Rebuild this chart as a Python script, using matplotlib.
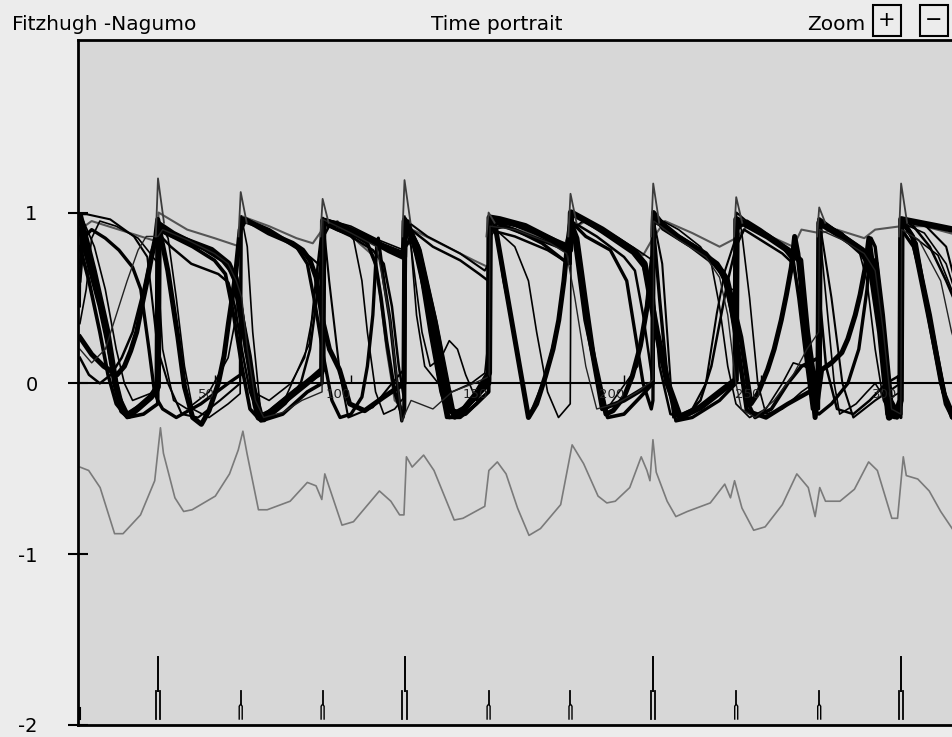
import matplotlib.pyplot as plt
from matplotlib.patches import Rectangle

# stimulus times, marker tops and spike peaks
stim_t = [0.7, 29.3, 59.6, 89.6, 119.6, 150.4, 180.4, 210.7, 241.1, 271.5, 301.5]
stim_top = [-1.9, -1.6, -1.8, -1.8, -1.6, -1.8, -1.8, -1.6, -1.8, -1.8, -1.6]
stim_split = [-1.9, -1.8, -1.89, -1.89, -1.8, -1.89, -1.89, -1.8, -1.89, -1.89, -1.8]
peak_v = [0.9, 1.20, 1.12, 1.08, 1.19, 1.00, 1.11, 1.17, 1.09, 1.03, 1.17]

time_ticks = [50, 100, 150, 200, 250, 300]
y_ticks = [1, 0, -1, -2]

# grey recovery trace
w_t = [0.7, 3.9, 8.1, 13.4, 16.5, 22.9, 28.1, 30.2, 31.3, 35.5, 38.7, 41.8, 50.3, 55.5, 58.7,
       60.4, 61.9, 66.1, 69.3, 77.7, 84.0, 87.2, 89.3, 90.4, 92.5, 96.7, 100.9, 110.4, 114.6,
       117.8, 119.4, 120.3, 122.4, 126.6, 130.4, 137.8, 141.0, 149.0, 150.5, 153.6, 156.8,
       161.0, 165.2, 169.4, 176.8, 181.0, 185.2, 190.5, 193.7, 196.8, 202.1, 206.3, 208.4,
       209.5, 210.6, 211.8, 215.8, 219.0, 223.2, 231.6, 236.9, 239.0, 240.5, 243.2, 247.5,
       251.7, 258.0, 263.3, 267.5, 270.0, 271.7, 273.8, 279.1, 284.4, 289.6, 292.8, 298.1,
       300.2, 302.3, 303.4, 307.6, 311.8, 316.0, 320.2]
w_v = [-0.49, -0.51, -0.61, -0.88, -0.88, -0.77, -0.57, -0.26, -0.41, -0.67, -0.75, -0.74,
       -0.66, -0.53, -0.39, -0.28, -0.41, -0.74, -0.74, -0.69, -0.58, -0.60, -0.68, -0.53,
       -0.63, -0.83, -0.81, -0.63, -0.69, -0.77, -0.77, -0.43, -0.49, -0.42, -0.51, -0.80,
       -0.79, -0.72, -0.51, -0.46, -0.53, -0.73, -0.89, -0.85, -0.71, -0.36, -0.47, -0.66,
       -0.70, -0.69, -0.61, -0.43, -0.51, -0.57, -0.33, -0.52, -0.69, -0.78, -0.75, -0.70,
       -0.59, -0.67, -0.57, -0.73, -0.86, -0.84, -0.71, -0.53, -0.61, -0.78, -0.61, -0.69,
       -0.69, -0.62, -0.46, -0.51, -0.79, -0.79, -0.43, -0.54, -0.56, -0.63, -0.75, -0.85]

# membrane traces (time, v)
a_t = [0.7, 5.7, 10.6, 13.7, 16.2, 18.5, 21.7, 26.7, 29.2, 29.5, 30.4, 39, 48.9, 55.1, 57.6, 60,
       62.5, 65, 66.2, 68, 72, 79.7, 85.9, 89.5, 89.8, 95, 105, 114, 119.4, 119.7, 124.2, 130.4,
       136.6, 140, 146, 150.5, 150.8, 154.5, 163.8, 173.6, 180.2, 180.6, 192, 203.3, 207.5,
       212, 216, 220.5, 228, 236, 240.9, 241.2, 252.6, 260, 264.5, 267, 270, 271.3, 271.6,
       279.8, 287.2, 292.1, 294.6, 297.1, 300, 301.3, 301.6, 308, 314.4, 320.5, 324]
a_v = [0.98, 0.66, 0.31, 0.0, -0.16, -0.19, -0.15, -0.08, -0.02, 0.92, 0.9, 0.84, 0.78, 0.7,
       0.61, 0.37, 0.16, -0.12, -0.2, -0.21, -0.15, -0.05, 0.03, 0.08, 0.95, 0.93, 0.86, 0.78,
       0.74, 0.95, 0.80, 0.37, -0.16, -0.18, -0.06, 0.06, 0.97, 0.96, 0.92, 0.84, 0.78, 1.0,
       0.9, 0.78, 0.7, 0.3, 0.0, -0.2, -0.14, -0.04, 0.02, 0.96, 0.86, 0.78, 0.72, 0.3, -0.05,
       0.0, 0.94, 0.86, 0.78, 0.70, 0.27, -0.2, -0.16, -0.1, 0.96, 0.94, 0.92, 0.9, 0.88]

b_t = [0.7, 3, 8, 12, 15, 18, 24, 29.1, 29.4, 35, 45, 53, 58, 61, 64, 67.4, 79.7, 86, 89.4,
       89.7, 100, 110, 119.4, 119.7, 123, 129, 135, 138, 146, 150.5, 150.8, 160, 170, 180.2,
       180.5, 183, 187, 192, 200, 210.4, 210.7, 220, 230, 237, 241, 245, 252, 260, 271.2,
       271.5, 280, 287, 290, 293.5, 296.5, 300, 301.4, 301.7, 306, 312, 317, 321, 324]
b_v = [0.9, 0.75, 0.45, 0.15, -0.08, -0.18, -0.12, -0.04, 0.94, 0.88, 0.8, 0.72, 0.62, 0.3, 0.0,
       -0.2, -0.04, 0.03, 0.06, 0.96, 0.9, 0.82, 0.76, 0.96, 0.82, 0.4, -0.1, -0.2, -0.08, 0.02,
       0.96, 0.93, 0.87, 0.8, 0.96, 0.8, 0.3, -0.15, -0.1, 0.0, 0.98, 0.86, 0.76, 0.62, 0.3,
       -0.16, -0.2, -0.12, -0.02, 0.96, 0.86, 0.76, 0.68, 0.3, -0.18, -0.2, -0.12, 0.96, 0.85,
       0.4, -0.05, -0.2, -0.2]

c_t = [0.7, 5, 9.4, 14.3, 17, 19.3, 21.5, 23.6, 25.3, 26.7, 28.5, 29.2, 30.5, 32.9, 36.6, 39,
       42, 45.2, 48, 51.4, 53.5, 55.1, 57.6, 59.4, 61.3, 69.9, 78.6, 82.3, 85, 87.2, 89.6, 92.1,
       95.8, 99.5, 105, 112, 119.4, 119.7, 125, 131, 137.5, 142, 150.5, 150.8, 152.6, 158.8,
       165, 168, 171.2, 174, 176.1, 178, 179.2, 180.5, 182, 186, 193.4, 196, 200, 203, 206,
       208.5, 210.5, 210.8, 215.6, 225.5, 234.1, 237.8, 242.8, 246.5, 249, 252.6, 255, 257.6,
       259.5, 261.3, 262.5, 263.7, 270, 272.4, 276, 279.8, 282, 284.7, 286.5, 288.4, 289.7,
       291, 294.6, 297.1, 301.3, 301.6, 305.7, 311.9, 318, 320.5, 324]
c_v = [0.27, 0.17, 0.10, 0.05, 0.1, 0.19, 0.3, 0.47, 0.6, 0.72, 0.86, 0.96, 0.85, 0.66, 0.27,
       -0.02, -0.2, -0.24, -0.16, 0.0, 0.16, 0.35, 0.62, 0.9, 0.96, 0.88, 0.82, 0.78, 0.72,
       0.62, 0.37, 0.2, 0.08, -0.12, -0.16, -0.08, 0.0, 0.96, 0.78, 0.35, -0.18, -0.14, 0.0,
       0.96, 0.94, 0.37, -0.2, -0.12, 0.04, 0.2, 0.37, 0.6, 0.8, 0.95, 0.85, 0.37, -0.18,
       -0.16, -0.08, 0.04, 0.22, 0.45, 0.75, 1.0, 0.90, 0.80, 0.70, 0.61, 0.27, -0.12, -0.06,
       0.08, 0.2, 0.37, 0.52, 0.68, 0.86, 0.76, -0.2, 0.08, 0.12, 0.18, 0.26, 0.4, 0.52, 0.68,
       0.85, 0.7, 0.27, -0.2, -0.12, 0.96, 0.86, 0.37, -0.12, -0.2, -0.18]

d_t = [0.7, 1.0, 3.2, 11.8, 20.5, 25.4, 27.3, 29.2, 33, 38, 44, 52, 59.4, 59.7, 65, 75, 85,
       89.4, 89.7, 92, 96, 99, 108, 114, 119.3, 119.6, 128, 140, 149, 150.4, 150.7, 152.6,
       155.8, 158.8, 165, 171.2, 176.1, 179.2, 180.5, 192, 203, 207, 209, 210.6, 210.8, 214,
       218, 225, 230, 234, 237, 240.9, 241.2, 250, 260, 263.7, 266, 270, 271.4, 271.6, 276,
       280, 284, 292, 301.3, 301.6, 310, 318, 322, 324]
d_v = [0.45, 0.99, 0.99, 0.96, 0.86, 0.74, 0.47, 0.2, 0.0, -0.18, -0.2, -0.1, 0.0, 0.95, 0.92,
       0.84, 0.74, 0.68, 0.97, 0.6, 0.05, -0.2, -0.14, -0.02, 0.08, 0.96, 0.86, 0.76, 0.66, 0.7,
       0.96, 0.94, 0.6, 0.37, -0.2, 0.04, 0.37, 0.8, 1.0, 0.88, 0.76, 0.68, 0.55, 0.6, 0.96, 0.7,
       -0.2, -0.15, 0.0, 0.41, 0.66, 0.85, 1.0, 0.88, 0.78, 0.74, 0.4, -0.2, -0.1, 0.95, 0.5,
       0.0, -0.2, -0.1, 0.0, 0.97, 0.93, 0.8, 0.55, 0.35]

e_t = [0.7, 2, 6, 10, 14, 17, 20, 28, 29.2, 29.5, 31, 35, 40, 48, 55, 58, 59.5, 59.8, 62, 64,
       67, 75, 84.7, 87, 89.5, 91, 100, 110, 119.4, 119.7, 122, 124, 127, 132, 137, 144, 149,
       150.6, 150.8, 160, 170, 179.5, 180.4, 184, 188, 193, 196, 205, 208, 210.5, 210.8, 214,
       224, 234, 238, 241, 241.3, 243, 246, 249, 252, 258, 265, 271.3, 271.6, 274, 277, 279,
       285, 289, 292, 296, 301.3, 301.6, 306, 315, 320, 324]
e_v = [0.7, 0.95, 0.8, 0.55, 0.2, 0.0, -0.1, -0.05, 0.0, 0.6, 0.2, -0.1, -0.15, -0.05, 0.15,
       0.4, 0.6, 0.98, 0.8, 0.3, -0.18, -0.12, 0.23, 0.6, 0.95, 0.96, 0.92, 0.84, 0.78, 0.98,
       0.8, 0.4, 0.1, 0.0, -0.05, 0.0, 0.06, 0.3, 0.95, 0.92, 0.86, 0.78, 0.95, 0.7, 0.2, -0.17,
       -0.1, 0.1, 0.45, 0.75, 0.98, 0.9, 0.8, 0.68, 0.55, 0.55, 0.96, 0.9, 0.5, 0.0, -0.18,
       -0.15, -0.05, 0.02, 0.9, 0.5, 0.0, -0.18, -0.12, -0.05, 0.0, -0.1, -0.05, 0.94, 0.86,
       0.75, 0.55, 0.4]

f_t = [0.7, 5, 10, 13, 18, 22, 25, 29.3, 31, 40, 50, 55, 58, 60, 62, 65, 68, 75, 82, 89.4, 89.7,
       100, 109.4, 114.3, 118.6, 122, 130, 137, 145, 150.6, 150.9, 160, 173, 179, 182, 186,
       190, 197, 205, 210.6, 210.9, 220, 230, 235, 238, 241, 243, 248, 255, 262, 267, 271.3,
       271.6, 280, 288, 292, 295, 298, 301.4, 301.7, 308, 316, 320, 324]
f_v = [0.2, 0.12, 0.2, 0.35, 0.6, 0.78, 0.86, 0.86, 0.9, 0.84, 0.76, 0.7, 0.6, 0.5, 0.2, -0.1,
       -0.2, -0.17, -0.1, -0.05, 0.96, 0.88, 0.8, 0.37, -0.22, -0.1, -0.15, -0.05, 0.0, 0.04,
       0.92, 0.9, 0.82, 0.76, 0.5, 0.1, -0.15, -0.12, -0.05, 0.02, 0.95, 0.84, 0.74, 0.62, 0.4,
       0.0, -0.15, -0.2, -0.1, 0.05, 0.2, 0.3, 0.9, 0.84, 0.76, 0.66, 0.3, -0.15, -0.18, 0.9,
       0.84, 0.6, 0.3, 0.1]

g_t = [0.7, 2, 5, 10, 15, 20, 23, 26, 28, 29.2, 31, 36, 45, 55, 59.5, 59.8, 70, 80, 84, 87, 90,
       93, 96, 100, 104, 106, 108, 109.4, 110, 112, 114.3, 116.5, 118.6, 119.4, 119.7, 121,
       125, 128, 132, 135, 140, 146, 150.4, 150.7, 160, 170, 178, 180.2, 180.5, 186, 195, 201,
       204, 207, 210, 210.6, 210.9, 213, 216, 219, 225, 235, 241, 241.3, 245, 250, 257, 262,
       264, 267, 269, 271.4, 276, 282, 286, 289, 290.5, 292, 295, 298, 301.4, 301.7, 306, 310,
       314, 318, 322, 324]
g_v = [0.6, 0.85, 0.9, 0.85, 0.78, 0.68, 0.55, 0.2, -0.05, -0.1, -0.15, -0.2, -0.12, 0.0,
       0.05, 0.97, 0.9, 0.8, 0.7, 0.45, 0.15, -0.1, -0.2, -0.18, -0.08, 0.1, 0.4, 0.8, 0.85,
       0.6, 0.37, 0.05, -0.22, -0.15, 0.9, 0.95, 0.75, 0.45, 0.05, -0.2, -0.2, -0.12, -0.05,
       0.95, 0.9, 0.82, 0.72, 0.7, 0.95, 0.86, 0.78, 0.6, 0.3, 0.0, -0.15, -0.1, 0.9, 0.5, 0.0,
       -0.22, -0.2, -0.1, 0.0, 0.9, 0.95, 0.9, 0.82, 0.72, 0.5, 0.1, -0.15, -0.18, -0.12, 0.0,
       0.2, 0.55, 0.85, 0.8, 0.4, -0.1, -0.2, 0.9, 0.8, 0.55, 0.2, -0.1, -0.22, -0.2]

h_t = [0.7, 5, 15, 25, 29.2, 29.5, 40, 50, 59.4, 59.7, 70, 80, 86, 89.5, 95, 103, 108, 110,
       113, 116, 119.4, 119.7, 125, 135, 145, 150.3, 150.6, 165, 178, 180.4, 186, 198, 207,
       210.6, 215, 225, 235, 241, 245, 255, 262, 265, 271.5, 278, 288, 292, 301.5, 310, 324]
h_v = [0.9, 0.95, 0.9, 0.85, 0.83, 1.0, 0.9, 0.85, 0.8, 0.98, 0.92, 0.85, 0.82, 0.9, 0.95,
       0.82, 0.75, 0.6, 0.2, -0.1, -0.15, 0.92, 0.88, 0.8, 0.72, 0.68, 0.95, 0.88, 0.8, 0.9,
       0.95, 0.85, 0.75, 0.85, 0.95, 0.88, 0.8, 0.85, 0.92, 0.85, 0.8, 0.9, 0.88, 0.9, 0.85,
       0.9, 0.92, 0.92, 0.86]

i_t = [0.7, 3, 5, 8, 14, 22, 27, 29.3, 29.6, 33, 36, 39, 42, 48, 55, 59.4, 59.7, 61, 64, 70,
       78, 83, 86, 88, 89.6, 91, 96, 101, 104, 106, 109, 112, 116, 119.5, 119.8, 122, 124, 126,
       129, 133, 136, 139, 142, 146, 150.3, 150.6, 153, 160, 165, 168, 172, 176, 180.3, 180.6,
       185, 195, 205, 210.5, 210.8, 220, 228, 232, 235, 238, 241, 246, 252, 258, 262, 266,
       271.4, 271.7, 280, 286, 289, 292, 295, 298, 301.4, 301.7, 310, 318, 322, 324]
i_v = [0.35, 0.55, 0.85, 0.95, 0.92, 0.85, 0.75, 0.7, 0.95, 0.85, 0.5, 0.1, -0.15, -0.2,
       -0.12, -0.06, 0.5, 0.2, -0.05, -0.1, 0.0, 0.15, 0.4, 0.7, 0.9, 0.96, 0.93, 0.84, 0.6,
       0.3, -0.05, -0.18, -0.15, -0.08, 0.9, 0.8, 0.55, 0.3, 0.1, 0.15, 0.25, 0.2, 0.05, -0.1,
       -0.05, 0.85, 0.9, 0.8, 0.6, 0.3, -0.05, -0.2, -0.12, 0.9, 0.95, 0.88, 0.78, 0.72, 0.98,
       0.9, 0.8, 0.7, 0.45, 0.1, -0.12, -0.2, -0.15, 0.0, 0.12, 0.1, 0.05, 0.95, 0.88, 0.78,
       0.6, 0.2, -0.1, -0.2, -0.15, 0.94, 0.88, 0.7, 0.5, 0.4]

j_t = [0.7, 4, 8, 12, 16, 20, 24, 27, 29.3, 31, 34, 41.5, 51.4, 55.1, 57.5, 60, 63, 66, 70, 76,
       81.6, 85, 87.5, 89.6, 92, 100, 108, 112, 115, 117.5, 119.5, 119.8, 122, 130, 140, 147,
       150.3, 150.6, 160, 172, 178, 180.4, 180.7, 190, 200, 204, 207, 210.6, 210.9, 213, 217,
       222, 228, 232, 235, 238, 241, 244, 252, 258, 262, 265, 268, 271.4, 271.7, 274, 278, 284,
       290, 296, 301.4, 301.7, 306, 312, 318, 322, 324]
j_v = [0.15, 0.05, 0.0, 0.05, 0.15, 0.3, 0.55, 0.78, 0.88, 0.85, 0.8, 0.7, 0.64, 0.59, 0.45,
       0.2, -0.05, -0.18, -0.2, -0.12, 0.0, 0.2, 0.5, 0.85, 0.92, 0.86, 0.78, 0.7, 0.45, 0.1,
       -0.1, 0.85, 0.9, 0.8, 0.72, 0.64, 0.6, 0.9, 0.86, 0.78, 0.72, 0.7, 0.95, 0.86, 0.74,
       0.66, 0.4, 0.0, 0.5, 0.1, -0.18, -0.2, -0.1, 0.1, 0.35, 0.6, 0.8, 0.9, 0.82, 0.76, 0.7,
       0.45, 0.1, -0.15, 0.5, 0.1, -0.15, -0.18, -0.1, 0.0, 0.05, 0.96, 0.92, 0.8, 0.6, 0.45, 0.4]

k_t = [0.7, 4, 8, 11, 14, 18, 24, 29.2, 29.5, 32, 42, 50, 54, 57, 60, 63, 67, 75, 84, 89.4, 89.7,
       95, 102, 106, 109, 111, 113, 116, 119, 119.6, 119.9, 122, 125, 129, 133, 136, 142, 150.4,
       150.7, 156, 166, 176, 180.3, 180.6, 183, 186, 190, 194, 200, 206, 210.6, 210.9, 218, 228,
       236, 239, 242, 245, 248, 254, 260, 265, 271.4, 271.7, 279, 286, 290, 293, 296, 299,
       301.4, 301.7, 307, 312, 316, 320, 324]
k_v = [0.8, 0.6, 0.3, 0.05, -0.12, -0.2, -0.18, -0.12, 0.9, 0.88, 0.8, 0.72, 0.64, 0.4, 0.1,
       -0.15, -0.22, -0.18, -0.05, 0.0, 0.94, 0.9, 0.86, 0.82, 0.7, 0.5, 0.25, -0.05, -0.2,
       -0.15, 0.8, 0.85, 0.7, 0.3, -0.05, -0.2, -0.18, -0.05, 0.9, 0.92, 0.86, 0.8, 0.76, 0.95,
       0.85, 0.5, 0.05, -0.2, -0.18, -0.08, 0.0, 0.95, 0.88, 0.78, 0.66, 0.45, 0.15, -0.1, -0.2,
       -0.15, 0.0, 0.1, 0.15, 0.95, 0.88, 0.8, 0.72, 0.45, 0.05, -0.2, -0.18, 0.95, 0.82, 0.35,
       0.0, -0.2, -0.22]

fig = plt.figure(figsize=(9.53, 7.37), dpi=100)
fig.patch.set_facecolor('#ececec')
ax = fig.add_axes([78 / 953, 12 / 737, 1 - 78 / 953 + 0.01, 685 / 737])
ax.set_facecolor('#d7d7d7')
ax.set_xlim(0, 324)
ax.set_ylim(-2, 2.01)

# membrane traces
ax.plot(h_t, h_v, color='#555555', lw=1.5)
ax.plot(a_t, a_v, color='black', lw=4.6)
ax.plot(c_t, c_v, color='black', lw=3.6)
ax.plot(b_t, b_v, color='black', lw=3.2)
ax.plot(k_t, k_v, color='black', lw=2.6)
ax.plot(g_t, g_v, color='black', lw=2.4)
ax.plot(j_t, j_v, color='black', lw=1.8)
ax.plot(d_t, d_v, color='black', lw=1.5)
ax.plot(e_t, e_v, color='black', lw=1.2)
ax.plot(i_t, i_v, color='black', lw=1.2)
ax.plot(f_t, f_v, color='#222222', lw=1)

# sharp peaks at each stimulus
for t, p in zip(stim_t[1:], peak_v[1:]):
    ax.plot([t - 0.8, t, t + 2.2], [0.86, p, 0.94], color='#3c3c3c', lw=1.3)

ax.plot(w_t, w_v, color='#7a7a7a', lw=1.2)

# zero line with time labels
ax.axhline(0, color='black', lw=1.5, zorder=1)
ax.vlines(time_ticks, 0, 0.05, color='black', lw=1)
for t in time_ticks:
    ax.text(t, -0.03, str(t), ha='right', va='top', fontsize=9.5, color='#222222')

# stimulus markers
for t, top, split in zip(stim_t, stim_top, stim_split):
    if top == split:
        ax.plot([t, t], [-1.965, top], color='black', lw=1.5)
    elif top < -1.7:
        ax.plot([t - 0.55, t - 0.55, t, t + 0.55, t + 0.55],
                [-1.965, split, split + 0.012, split, -1.965], color='black', lw=1)
        ax.plot([t, t], [split + 0.012, top], color='black', lw=1.3)
    else:
        ax.plot([t - 0.75, t - 0.75], [-1.965, split], color='black', lw=1.3)
        ax.plot([t + 0.75, t + 0.75], [-1.965, split], color='black', lw=1.3)
        ax.plot([t, t], [split, top], color='black', lw=1.4)

ax.set_xticks([])
ax.set_yticks(y_ticks)
ax.set_yticklabels(['1', '0', '-1', '-2'], fontsize=14)
ax.tick_params(axis='y', direction='inout', length=14, width=1.5, pad=22)
for side in ['left', 'bottom', 'top']:
    ax.spines[side].set_linewidth(2)
ax.spines['right'].set_visible(False)

fig.text(12 / 953, 1 - 25 / 737, 'Fitzhugh -Nagumo', fontsize=14.5, va='center')
fig.text(497 / 953, 1 - 25 / 737, 'Time portrait', fontsize=14.5, va='center', ha='center')
fig.text(865 / 953, 1 - 25 / 737, 'Zoom', fontsize=14.5, va='center', ha='right')
fig.patches.append(Rectangle((873 / 953, 1 - 36 / 737), 28 / 953, 31 / 737,
                             transform=fig.transFigure, fill=False, ec='black', lw=1.5))
fig.patches.append(Rectangle((920 / 953, 1 - 36 / 737), 28 / 953, 31 / 737,
                             transform=fig.transFigure, fill=False, ec='black', lw=1.5))
fig.text(887 / 953, 1 - 20 / 737, '+', fontsize=15, va='center', ha='center')
fig.text(934 / 953, 1 - 20 / 737, '\u2212', fontsize=15, va='center', ha='center')

fig.savefig('out.png', dpi=100, facecolor=fig.get_facecolor())
